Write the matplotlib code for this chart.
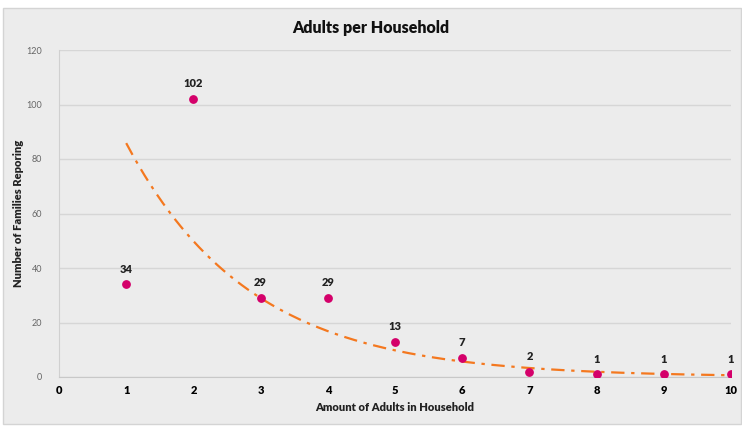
import numpy as np
import matplotlib.pyplot as plt
from matplotlib.patches import Rectangle

plt.rcParams['font.family'] = ['Lato', 'DejaVu Sans']

adults = [1, 2, 3, 4, 5, 6, 7, 8, 9, 10]
families = [34, 102, 29, 29, 13, 7, 2, 1, 1, 1]

# exponential trendline (like Excel's) fitted on the data
b, log_a = np.polyfit(adults, np.log(families), 1)
trend_x = np.linspace(1, 10, 200)
trend_y = np.exp(log_a) * np.exp(b * trend_x)

fig = plt.figure(figsize=(7.42, 4.28), dpi=100, facecolor='white')
fig.patches.append(Rectangle((3 / 742, 4 / 428), 738 / 742, 416 / 428,
                             transform=fig.transFigure, facecolor='#ececec',
                             edgecolor='#d4d4d4', linewidth=1, zorder=-1))
ax = fig.add_axes([59 / 742, 51 / 428, 672 / 742, 327 / 428])
ax.set_facecolor('#ececec')

ax.plot(trend_x, trend_y, color='#f4781f', linestyle=(0, (6, 3, 1.5, 3)),
        linewidth=1.6, zorder=2)
ax.scatter(adults, families, color='#d4006a', s=28, zorder=3)

for x, y in zip(adults, families):
    ax.annotate(str(y), (x, y), xytext=(0, 7), textcoords='offset points',
                ha='center', va='bottom', fontsize=8, fontweight='heavy',
                color='#222222')

ax.set_xlim(0, 10)
ax.set_ylim(0, 120)
ax.set_xticks(range(0, 11))
ax.set_yticks(range(0, 121, 20))
ax.grid(axis='y', color='#d6d6d6', linewidth=1)
ax.set_axisbelow(True)

for s in ['top', 'right']:
    ax.spines[s].set_visible(False)
ax.spines['left'].set_color('#d0d0d0')
ax.spines['bottom'].set_color('#c8c8c8')
ax.tick_params(axis='y', length=0, labelsize=6.5, labelcolor='#666666', pad=12)
ax.tick_params(axis='x', length=0, labelsize=8, pad=6)
for lab in ax.get_xticklabels():
    lab.set_fontweight('heavy')

ax.set_xlabel('Amount of Adults in Household', fontsize=8, fontweight='heavy',
              color='#222222', labelpad=4)
ax.set_ylabel('Number of Families Reporing', fontsize=8, fontweight='heavy',
              color='#222222', labelpad=2)
fig.text(0.5, 0.935, 'Adults per Household', ha='center', va='center',
         fontsize=11.5, fontweight='heavy', color='#111111')

fig.savefig('out.png', dpi=100, facecolor=fig.get_facecolor())
